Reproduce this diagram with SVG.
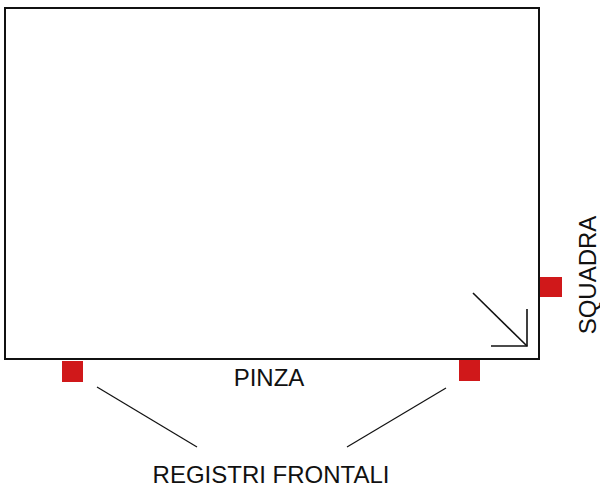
<svg xmlns="http://www.w3.org/2000/svg" width="600" height="493" viewBox="0 0 600 493">
<style>
.lbl{font-family:"Liberation Sans",Arial,sans-serif;font-size:24px;fill:#111;text-anchor:middle}
.reg{fill:#d0181a}
.ln{stroke:#111;fill:none}
</style>
<rect width="600" height="493" fill="#fff"/>
<g id="foglio">
<rect x="5" y="8" width="534" height="351" fill="#fff" stroke="#111" stroke-width="2"/>
</g>
<g id="freccia" class="ln" stroke-width="1.6">
<line x1="473" y1="293" x2="527" y2="346"/>
<polyline points="527,309 527,346 491,346"/>
</g>
<g id="registro-sx"><rect class="reg" x="62" y="361" width="21" height="21"/></g>
<g id="registro-dx"><rect class="reg" x="459" y="360" width="21" height="21"/></g>
<g id="squadra"><rect class="reg" x="540" y="277" width="22" height="20"/></g>
<g id="connectors" class="ln" stroke-width="1.2">
<line x1="97" y1="387" x2="197" y2="447"/>
<line x1="347" y1="447" x2="446" y2="388"/>
</g>
<g id="labels">
<text class="lbl" x="269" y="386">PINZA</text>
<text class="lbl" x="271" y="483">REGISTRI FRONTALI</text>
<text class="lbl" transform="translate(596,275) rotate(-90)">SQUADRA</text>
</g>
</svg>
